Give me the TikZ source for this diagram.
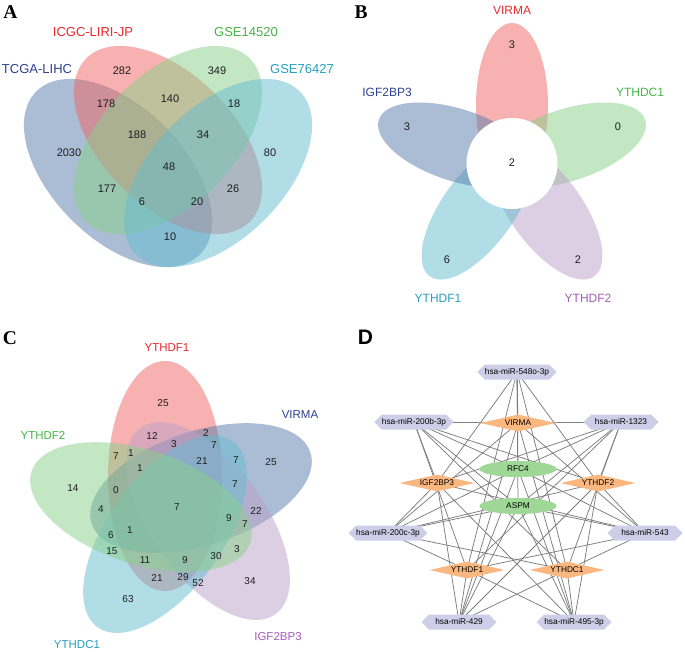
\documentclass[tikz,border=0pt]{standalone}
\usepackage{fontspec}
\setmainfont{Liberation Sans}
\newfontfamily\letterfont{Liberation Serif}
\usetikzlibrary{shapes.geometric,shapes.symbols}
\pgfdeclarelayer{background}
\pgfsetlayers{background,main}
\definecolor{vred}{RGB}{240,100,100}
\definecolor{vgreen}{RGB}{137,209,137}
\definecolor{vblue}{RGB}{89,125,171}
\definecolor{vcyan}{RGB}{101,189,209}
\definecolor{vpurple}{RGB}{189,161,201}
\definecolor{tred}{RGB}{232,40,45}
\definecolor{tgreen}{RGB}{70,180,70}
\definecolor{tblue}{RGB}{45,65,145}
\definecolor{tcyan}{RGB}{40,160,195}
\definecolor{tpurple}{RGB}{165,95,185}
\definecolor{hexfill}{RGB}{206,206,232}
\definecolor{diafill}{RGB}{251,183,128}
\definecolor{ellfill}{RGB}{158,215,150}
\definecolor{edgegray}{RGB}{125,125,125}
\definecolor{numcol}{RGB}{30,30,30}
\tikzset{
  vennfill/.style={fill=#1, fill opacity=0.5, draw=none},
  setlab/.style={text=#1, inner sep=0pt, font=\fontsize{13}{15}\selectfont},
  petlab/.style={text=#1, inner sep=0pt, font=\fontsize{12}{14}\selectfont},
  flwlab/.style={text=#1, inner sep=0pt, font=\fontsize{11.5}{13}\selectfont},
  numA/.style={text=numcol, inner sep=0pt, font=\fontsize{11}{13}\selectfont},
  numC/.style={text=numcol, inner sep=0pt, font=\fontsize{10}{12}\selectfont},
  panelserif/.style={inner sep=0pt, font=\letterfont\bfseries\fontsize{19.5}{21}\selectfont},
  panelsans/.style={inner sep=0pt, font=\bfseries\fontsize{21}{23}\selectfont},
  mirna/.style={signal, signal to=east and west, signal pointer angle=90, fill=hexfill, minimum width=75pt, minimum height=15pt, inner sep=0pt, font=\fontsize{8.3}{9}\selectfont},
  regulator/.style={diamond, aspect=4.4, fill=diafill, minimum width=75pt, minimum height=17pt, inner sep=0pt, font=\fontsize{8.3}{9}\selectfont},
  hubgene/.style={ellipse, fill=ellfill, minimum width=77pt, minimum height=16pt, inner sep=0pt, font=\fontsize{8.3}{9}\selectfont},
  netedge/.style={draw=edgegray, line width=0.75pt},
}
\begin{document}
\begin{tikzpicture}[x=1pt,y=-1pt]
\begin{pgfonlayer}{background}
\fill[white] (0,0) rectangle (685,651);
\end{pgfonlayer}
\useasboundingbox (0,0) rectangle (685,651);

% ---------------- Panel A ----------------
\node[panelserif] (letA) at (10.3,12) {A};
\fill[vennfill=vblue, rotate around={-45:(118,173)}] (118,173) ellipse [x radius=115.5, y radius=66];
\fill[vennfill=vred, rotate around={-45:(168,140)}] (168,140) ellipse [x radius=115.5, y radius=66];
\fill[vennfill=vgreen, rotate around={45:(168,140)}] (168,140) ellipse [x radius=115.5, y radius=66];
\fill[vennfill=vcyan, rotate around={45:(218,173)}] (218,173) ellipse [x radius=115.5, y radius=66];
\node[setlab=tred] (labICGC) at (93,32) {ICGC-LIRI-JP};
\node[setlab=tgreen] (labGSE1) at (246,32) {GSE14520};
\node[setlab=tblue] (labTCGA) at (37,69) {TCGA-LIHC};
\node[setlab=tcyan] (labGSE7) at (302,69) {GSE76427};
\foreach \x/\y/\t [count=\i] in {122/71/282, 217/71/349, 106/104/178, 170/99/140, 234/104/18, 137/135/188, 203/135/34, 69/153/2030, 169/167/48, 270/153/80, 107/189/177, 233/189/26, 142/202/6, 197/202/20, 170/237/10}
  \node[numA] (An\i) at (\x,\y) {\t};

% ---------------- Panel B ----------------
\node[panelserif] (letB) at (361,12) {B};
\fill[vennfill=vred, rotate around={90:(512,105)}] (512,105) ellipse [x radius=82, y radius=36];
\fill[vennfill=vgreen, rotate around={18:(567.2,145.1)}] (567.2,145.1) ellipse [x radius=82, y radius=36];
\fill[vennfill=vpurple, rotate around={-54:(546.1,209.9)}] (546.1,209.9) ellipse [x radius=82, y radius=36];
\fill[vennfill=vcyan, rotate around={-126:(477.9,209.9)}] (477.9,209.9) ellipse [x radius=82, y radius=36];
\fill[vennfill=vblue, rotate around={162:(456.8,145.1)}] (456.8,145.1) ellipse [x radius=82, y radius=36];
\fill[white] (512,163.5) circle [radius=45.5];
\node[petlab=tred] (labBV) at (512,10) {VIRMA};
\node[petlab=tgreen] (labBC1) at (640,92) {YTHDC1};
\node[petlab=tpurple] (labBF2) at (588,298) {YTHDF2};
\node[petlab=tcyan] (labBF1) at (438,298) {YTHDF1};
\node[petlab=tblue] (labBI) at (387,92) {IGF2BP3};
\foreach \x/\y/\t [count=\i] in {512/45/3, 618/127/0, 578/260/2, 447/260/6, 407/127/3, 512/163/2}
  \node[numA] (Bn\i) at (\x,\y) {\t};

% ---------------- Panel C ----------------
\node[panelserif] (letC) at (10,338) {C};
\fill[vennfill=vred, rotate around={90:(165,476)}] (165,476) ellipse [x radius=115, y radius=57];
\fill[vennfill=vblue, rotate around={18:(201,488)}] (201,488) ellipse [x radius=115, y radius=57];
\fill[vennfill=vpurple, rotate around={-54:(208,521)}] (208,521) ellipse [x radius=115, y radius=57];
\fill[vennfill=vcyan, rotate around={-126:(165,534)}] (165,534) ellipse [x radius=115, y radius=57];
\fill[vennfill=vgreen, rotate around={162:(141,507)}] (141,507) ellipse [x radius=115, y radius=57];
\node[flwlab=tred] (labCF1) at (167,348) {YTHDF1};
\node[flwlab=tblue] (labCV) at (300,415) {VIRMA};
\node[flwlab=tgreen] (labCF2) at (43,435) {YTHDF2};
\node[flwlab=tcyan] (labCC1) at (77,645) {YTHDC1};
\node[flwlab=tpurple] (labCI) at (278,637) {IGF2BP3};
\foreach \x/\y/\t [count=\i] in {163/403/25, 152/436/12, 206/433/2, 174/444/3, 214/445/7, 116/456/7, 131/453/1, 202/461/21, 236/460/7, 271/462/25, 140/468/1, 73/488/14, 116/490/0, 235/484/7, 177/507/7, 101/509/4, 256/511/22, 229/518/9, 245/524/7, 111/535/6, 130/530/1, 112/551/15, 145/560/11, 185/560/9, 216/556/30, 237/549/3, 157/578/21, 183/577/29, 198/583/52, 250/581/34, 128/599/63}
  \node[numC] (Cn\i) at (\x,\y) {\t};

% ---------------- Panel D ----------------
\node[panelsans] (letD) at (365.5,337) {D};
\node[mirna] (m548) at (517,372) {hsa-miR-548o-3p};
\node[mirna] (m200b) at (414,422) {hsa-miR-200b-3p};
\node[mirna] (m1323) at (621,422) {hsa-miR-1323};
\node[mirna] (m200c) at (388,533) {hsa-miR-200c-3p};
\node[mirna] (m543) at (645,533) {hsa-miR-543};
\node[mirna] (m429) at (459,622) {hsa-miR-429};
\node[mirna] (m495) at (574,622) {hsa-miR-495-3p};
\node[regulator] (gVIRMA) at (518,423) {VIRMA};
\node[regulator] (gIGF) at (437,483) {IGF2BP3};
\node[regulator] (gF2) at (598,483) {YTHDF2};
\node[regulator] (gF1) at (467,570) {YTHDF1};
\node[regulator] (gC1) at (567,570) {YTHDC1};
\node[hubgene] (gRFC4) at (518,469) {RFC4};
\node[hubgene] (gASPM) at (518,506) {ASPM};
\begin{pgfonlayer}{background}
\foreach \m in {m548,m200b,m1323,m200c,m543,m429,m495}
  \foreach \g in {gVIRMA,gIGF,gF2,gF1,gC1,gRFC4,gASPM}
    \draw[netedge] (\m.center) -- (\g.center);
\end{pgfonlayer}
\end{tikzpicture}
\end{document}
